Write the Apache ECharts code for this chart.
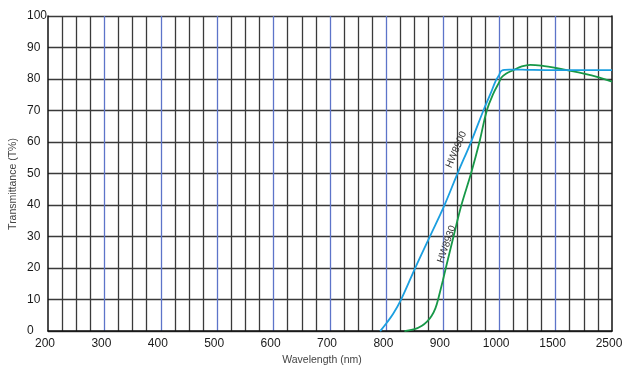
<!DOCTYPE html>
<html>
<head>
<meta charset="utf-8">
<script src="https://cdn.jsdelivr.net/npm/echarts@6/dist/echarts.min.js"></script>
<style>html,body{margin:0;padding:0;background:#fff}#c{width:630px;height:371px}</style>
</head>
<body>
<div id="c"></div>
<script>
// ---- data (wavelength in nm, transmittance in %) ----
const hw8900Wavelength = [789, 800, 812, 826, 851, 877, 903, 926, 950, 972, 985, 994, 1000, 1010, 1025, 1050, 1090, 1150, 1250, 1500, 2000, 2500];
const hw8900T          = [0,   2.5, 5.5, 10,  20,  30,  40,  50,  60,  70,  75.5, 79.5, 81.3, 82.2, 82.7, 82.9, 83,  83,   82.9, 82.8, 82.8, 82.8];
const hw8930Wavelength = [832, 850, 863, 872, 880, 887, 893, 900, 906, 919, 933, 950, 965, 978, 990, 1000, 1020, 1060, 1125, 1200, 1275, 1400, 1500, 1700, 2000, 2250, 2500];
const hw8930T          = [0,   0.6, 1.7, 3,   4.8, 7.3, 11,  16,  20.5, 30, 40,  50,  60,  70,  75.5, 79,  80.5, 81.7, 82.8, 84,   84.5, 84.1, 83.5, 82.8, 81.7, 80.6, 79.2];
const xTickValues = [200, 300, 400, 500, 600, 700, 800, 900, 1000, 1500, 2500];
const yTicks = [0, 10, 20, 30, 40, 50, 60, 70, 80, 90, 100];
const seriesNames = ['HW8900', 'HW8930'];
const xName = 'Wavelength (nm)';
const yName = 'Transmittance (T%)';

// broken wavelength scale: linear to 1000 nm, then 1000-1500 and 1500-2500 compressed
function toAxis(w) {
  if (w <= 1000) return w;
  if (w <= 1500) return 1000 + (w - 1000) / 5;
  return 1100 + (w - 1500) / 10;
}
const axisToLabel = {};
xTickValues.forEach(w => { axisToLabel[Math.round(toAxis(w))] = String(w); });

const chart = echarts.init(document.getElementById('c'), null, {renderer: 'canvas'});
const font = '"Liberation Sans", Arial, Helvetica, sans-serif';
const blackGrid = '#3a3a3a';
const blueGrid = '#5d74c9';

const option = {
  animation: false,
  backgroundColor: '#fff',
  grid: {left: 48, right: 18, top: 16, bottom: 34, containLabel: false},
  xAxis: {
    type: 'value', min: 200, max: 1200, interval: 25,
    name: xName, nameLocation: 'middle', nameGap: 19,
    nameTextStyle: {fontFamily: font, fontSize: 10.5, color: '#444', padding: [0, 16, 0, 0]},
    axisLine: {show: true, lineStyle: {color: '#111', width: 1.5}},
    axisTick: {show: false},
    axisLabel: {
      margin: 7, fontFamily: font, fontSize: 12, color: '#1a1a1a', padding: [0, 6, 0, 0],
      formatter: v => axisToLabel[Math.round(v)] || ''
    },
    splitLine: {show: true, showMinLine: false, showMaxLine: false,
      lineStyle: {color: [blackGrid, blackGrid, blackGrid, blueGrid], width: 1.3}}
  },
  yAxis: [{
    type: 'value', min: 0, max: 100, interval: 10,
    axisLine: {show: true, lineStyle: {color: '#111', width: 1.5}},
    axisTick: {show: false},
    axisLabel: {
      align: 'left', margin: 21, fontFamily: font, fontSize: 12, color: '#1a1a1a',
      padding: [0, 0, 7, 0],
      formatter: v => yTicks.indexOf(v) >= 0 ? String(v) : ''
    },
    splitLine: {show: true, lineStyle: {color: blackGrid, width: 1.4}}
  }, {
    type: 'value', min: 0, max: 100, position: 'right',
    axisLine: {show: true, onZero: false, lineStyle: {color: '#111', width: 1.5}},
    axisTick: {show: false}, axisLabel: {show: false}, splitLine: {show: false}
  }],
  series: [{
    name: seriesNames[0], type: 'line', smooth: 0.4, showSymbol: false,
    lineStyle: {color: '#1b9fe0', width: 1.8}, z: 5,
    data: hw8900Wavelength.map((w, i) => [toAxis(w), hw8900T[i]])
  }, {
    name: seriesNames[1], type: 'line', smooth: 0.4, showSymbol: false,
    lineStyle: {color: '#179848', width: 1.8}, z: 4,
    data: hw8930Wavelength.map((w, i) => [toAxis(w), hw8930T[i]])
  }]
};
chart.setOption(option);

// curve name annotations, rotated along the curves
const p1 = chart.convertToPixel({gridIndex: 0}, [924, 57.6]);
const p2 = chart.convertToPixel({gridIndex: 0}, [907, 27.6]);
chart.setOption({
  graphic: [
    {type: 'text', x: p1[0], y: p1[1], rotation: 67 * Math.PI / 180, z: 10,
     style: {text: seriesNames[0], fontFamily: font, fontSize: 10, fill: '#333', align: 'center', verticalAlign: 'middle'}},
    {type: 'text', x: p2[0], y: p2[1], rotation: 71 * Math.PI / 180, z: 10,
     style: {text: seriesNames[1], fontFamily: font, fontSize: 10, fill: '#333', align: 'center', verticalAlign: 'middle'}},
    {type: 'text', x: 13, y: 184, rotation: Math.PI / 2, z: 10,
     style: {text: yName, fontFamily: font, fontSize: 10.5, fill: '#444', align: 'center', verticalAlign: 'middle'}}
  ]
});
</script>
</body>
</html>
